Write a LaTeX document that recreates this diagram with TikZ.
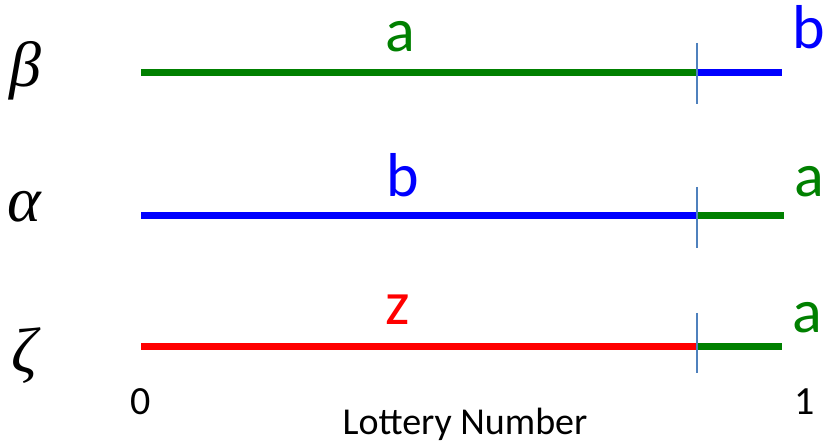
\documentclass[tikz,border=0pt]{standalone}
\usepackage{fontspec}
\setmainfont{Carlito}
\newfontfamily\grk{Liberation Serif}
\definecolor{lgreen}{RGB}{0,128,0}
\definecolor{lblue}{RGB}{0,0,255}
\definecolor{lred}{RGB}{255,0,0}
\definecolor{tickblue}{RGB}{79,129,189}
\tikzset{
  bar/.style={line width=7pt},
  tickline/.style={line width=2.2pt, draw=tickblue},
  lbl/.style={anchor=base, inner sep=0pt, font=\fontsize{62}{72}\selectfont},
  greek/.style={anchor=base, inner sep=0pt, font=\grk\itshape\fontsize{64}{74}\selectfont},
  axislbl/.style={anchor=base, inner sep=0pt, font=\fontsize{40}{46}\selectfont},
}
\begin{document}
\begin{tikzpicture}[x=1pt,y=1pt]
\useasboundingbox (0,0) rectangle (826,443);
% row beta
\coordinate (b0) at (141,370);
\coordinate (bs) at (697,370);
\coordinate (b1) at (782,370);
\coordinate (bt0) at (697,400);
\coordinate (bt1) at (697,339);
\draw[bar,lgreen] (b0) -- (bs);
\draw[bar,lblue] (bs) -- (b1);
\draw[tickline] (bt0) -- (bt1);
\node[greek] (gb) at (25,356) {β};
\node[lbl,text=lgreen] (la1) at (400,391) {a};
\node[lbl,text=lblue] (lb1) at (809,394) {b};
% row alpha
\coordinate (a0) at (141,227);
\coordinate (as) at (697,227);
\coordinate (a1) at (784,227);
\coordinate (at0) at (697,256);
\coordinate (at1) at (697,195);
\draw[bar,lblue] (a0) -- (as);
\draw[bar,lgreen] (as) -- (a1);
\draw[tickline] (at0) -- (at1);
\node[greek] (ga) at (24,221) {α};
\node[lbl,text=lblue] (lb2) at (403,246) {b};
\node[lbl,text=lgreen] (la2) at (809,246) {a};
% row zeta
\coordinate (z0) at (141,96);
\coordinate (zs) at (697,96);
\coordinate (z1) at (782,96);
\coordinate (zt0) at (697,130);
\coordinate (zt1) at (697,70);
\draw[bar,lred] (z0) -- (zs);
\draw[bar,lgreen] (zs) -- (z1);
\draw[tickline] (zt0) -- (zt1);
\node[greek] (gz) at (24,70) {ζ};
\node[lbl,text=lred] (lz) at (398,118) {z};
\node[lbl,text=lgreen] (la3) at (807,110) {a};
% axis labels
\node[axislbl] (n0) at (141,28) {0};
\node[axislbl] (n1) at (805,28) {1};
\node[axislbl,font=\fontsize{38}{44}\selectfont] (lot) at (465,8) {Lottery Number};
\end{tikzpicture}
\end{document}
